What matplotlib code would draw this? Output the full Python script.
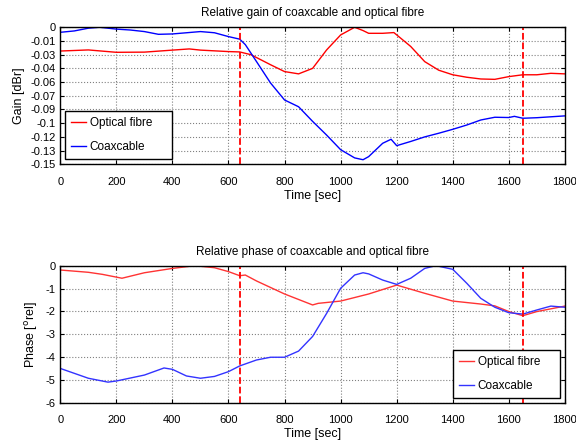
import matplotlib
matplotlib.use("Agg")
from matplotlib import pyplot as plt

plt.rcParams["font.family"] = ["Liberation Sans", "DejaVu Sans"]
plt.rcParams["axes.unicode_minus"] = False

# ── data ────────────────────────────────────────────────────────────────────
t_gain_coax = [0, 50, 100, 140, 200, 250, 300, 350, 400, 450, 500, 550, 600, 640, 660,
               700, 750, 800, 850, 900, 950, 1000, 1050, 1080, 1100, 1150, 1180, 1200,
               1250, 1300, 1350, 1400, 1450, 1500, 1550, 1600, 1620, 1650, 1700, 1750, 1800]
gain_coax = [-0.0055, -0.004, -0.001, 0.0, -0.002, -0.003, -0.0047, -0.0077, -0.0073, -0.006,
             -0.0047, -0.006, -0.0102, -0.013, -0.019, -0.0376, -0.061, -0.0796, -0.087,
             -0.103, -0.118, -0.134, -0.143, -0.145, -0.1416, -0.127, -0.1226, -0.1296,
             -0.125, -0.12, -0.116, -0.1117, -0.107, -0.1015, -0.0985, -0.0988, -0.0975,
             -0.0996, -0.099, -0.098, -0.097]

t_gain_fibre = [0, 100, 200, 300, 400, 460, 500, 600, 640, 680, 750, 800, 850, 900, 950,
                1000, 1050, 1080, 1100, 1150, 1190, 1250, 1300, 1350, 1400, 1450, 1500,
                1550, 1600, 1650, 1700, 1750, 1800]
gain_fibre = [-0.026, -0.0248, -0.0274, -0.0272, -0.025, -0.0237, -0.025, -0.0266, -0.027,
              -0.030, -0.041, -0.0485, -0.051, -0.045, -0.0248, -0.0084, 0.0, -0.0036,
              -0.0066, -0.0066, -0.0058, -0.021, -0.0376, -0.047, -0.052, -0.0547, -0.0566,
              -0.057, -0.054, -0.052, -0.052, -0.0504, -0.051]

t_phase_fibre = [0, 100, 150, 220, 300, 400, 480, 550, 600, 640, 660, 700, 800, 900, 920,
                 1000, 1100, 1200, 1300, 1400, 1500, 1550, 1600, 1650, 1700, 1800]
phase_fibre = [-0.19, -0.29, -0.38, -0.55, -0.31, -0.12, 0.0, -0.09, -0.26, -0.44, -0.41,
               -0.67, -1.24, -1.72, -1.65, -1.55, -1.24, -0.85, -1.21, -1.55, -1.68, -1.76,
               -2.01, -2.19, -2.01, -1.77]

t_phase_coax = [0, 100, 170, 200, 300, 370, 400, 450, 500, 550, 600, 640, 700, 750, 800,
                850, 900, 950, 1000, 1050, 1080, 1100, 1150, 1200, 1250, 1300, 1340, 1400,
                1450, 1500, 1550, 1600, 1650, 1700, 1750, 1800]
phase_coax = [-4.5, -4.93, -5.1, -5.05, -4.79, -4.48, -4.54, -4.83, -4.93, -4.85, -4.64,
              -4.39, -4.13, -4.01, -4.01, -3.74, -3.1, -2.09, -0.99, -0.41, -0.31, -0.36,
              -0.63, -0.82, -0.55, -0.12, 0.0, -0.16, -0.77, -1.43, -1.82, -2.06, -2.12,
              -1.94, -1.77, -1.82]

markers_t = [640, 1650]

gain_ticks = [0, -0.015, -0.03, -0.045, -0.06, -0.075, -0.09, -0.105, -0.12, -0.135, -0.15]
gain_tick_labels = ["0", "-0.01", "-0.03", "-0.04", "-0.06", "-0.07", "-0.09", "-0.1",
                    "-0.12", "-0.13", "-0.15"]
phase_ticks = [0, -1, -2, -3, -4, -5, -6]
time_ticks = [0, 200, 400, 600, 800, 1000, 1200, 1400, 1600, 1800]

# ── figure ──────────────────────────────────────────────────────────────────
fig = plt.figure(figsize=(5.76, 4.40), dpi=100)
ax1 = fig.add_axes([0.1047, 0.6266, 0.876, 0.3114])
ax2 = fig.add_axes([0.1047, 0.0848, 0.876, 0.3114])


def style(ax):
    ax.set_xlim(0, 1800)
    ax.set_xticks(time_ticks)
    ax.grid(True, linestyle=":", color="#808080", linewidth=0.8)
    ax.tick_params(direction="in", top=True, right=True, labelsize=8, length=3)
    ax.tick_params(axis="x", pad=9)
    for s in ax.spines.values():
        s.set_linewidth(1.0)
    ax.set_xlabel("Time [sec]", fontsize=9, labelpad=2)


def legend(ax, loc, box):
    # box is the legend frame in axes fractions; the width is stretched to it
    leg = ax.legend(loc=loc, bbox_to_anchor=box, mode="expand", fontsize=8.5,
                    fancybox=False, edgecolor="black", framealpha=1,
                    handlelength=1.3, handletextpad=0.3, labelspacing=1.0,
                    borderpad=0.5, borderaxespad=0.0)
    leg.get_frame().set_linewidth(1.0)


# gain
ax1.plot(t_gain_fibre, gain_fibre, color="red", linewidth=1.0, label="Optical fibre")
ax1.plot(t_gain_coax, gain_coax, color="blue", linewidth=1.0, label="Coaxcable")
for t in markers_t:
    ax1.axvline(t, color="red", linestyle="--", linewidth=1.3)
ax1.set_ylim(-0.15, 0)
ax1.set_yticks(gain_ticks)
ax1.set_yticklabels(gain_tick_labels)
style(ax1)
ax1.set_ylabel("Gain [dBr]", fontsize=9)
ax1.set_title("Relative gain of coaxcable and optical fibre", fontsize=8.5, pad=8)
legend(ax1, "lower left", (0.009, 0.039, 0.212, 0.3))

# phase
ax2.plot(t_phase_fibre, phase_fibre, color="#ff3333", linewidth=1.0, label="Optical fibre")
ax2.plot(t_phase_coax, phase_coax, color="#3333ff", linewidth=1.0, label="Coaxcable")
for t in markers_t:
    ax2.axvline(t, color="red", linestyle="--", linewidth=1.3)
ax2.set_ylim(-6, 0)
ax2.set_yticks(phase_ticks)
style(ax2)
ax2.set_ylabel("Phase [$^{\\rm o}$rel]", fontsize=9)
ax2.set_title("Relative phase of coaxcable and optical fibre", fontsize=8.5, pad=8)
legend(ax2, "lower right", (0.778, 0.034, 0.212, 0.3))

plt.savefig("out.png", dpi=100)
